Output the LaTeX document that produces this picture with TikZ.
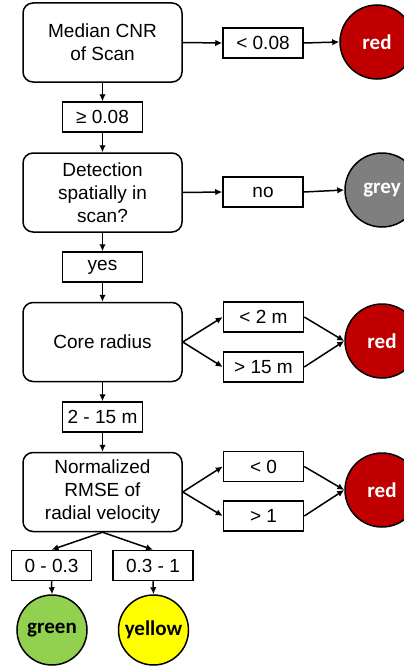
\documentclass[tikz,border=0pt]{standalone}
\usepackage{fontspec}
\setmainfont{Liberation Sans}
\newfontfamily\circfont{Carlito}
\usetikzlibrary{arrows.meta}
\definecolor{cred}{HTML}{C00000}
\definecolor{cgrey}{HTML}{7F7F7F}
\definecolor{cgreen}{HTML}{92D050}
\definecolor{cyellow}{HTML}{FFFF00}
\begin{document}
\begin{tikzpicture}[x=1pt,y=-1pt,
  decision/.style={draw, line width=1.5pt, rounded corners=10pt, minimum width=159pt, minimum height=79pt, align=center, inner sep=0pt, font=\fontsize{19}{23}\selectfont},
  cond/.style={draw, line width=1.5pt, minimum width=80pt, minimum height=30pt, inner sep=0pt, font=\fontsize{19}{23}\selectfont},
  result/.style={draw, circle, line width=1.5pt, inner sep=0pt, font=\circfont\bfseries\fontsize{21}{24}\selectfont},
  conn/.style={line width=1.5pt, -{Latex[length=7pt,width=6.5pt]}}]
\fill[white] (0,0) rectangle (404,669);
\clip (0,0) rectangle (404,669);
% decision boxes
\node[decision] (B1) at (102.5,42.5) {Median CNR\\of Scan};
\node[decision] (B2) at (102.5,192.5) {Detection\\spatially in\\scan?};
\node[decision] (B3) at (102.5,342) {Core radius};
\node[decision] (B4) at (102.5,492) {Normalized\\RMSE of\\radial velocity};
% condition labels
\node[cond] (L1) at (263,43) {< 0.08};
\node[cond] (G1) at (102.5,117) {≥ 0.08};
\node[cond] (L2) at (263,192) {no};
\node[cond] (G2) at (102.5,267) {yes};
\node[cond] (L3a) at (263.5,317) {< 2 m};
\node[cond] (L3b) at (263.5,367) {> 15 m};
\node[cond] (G3) at (102.5,417) {2 - 15 m};
\node[cond] (L4a) at (263.5,466.5) {< 0};
\node[cond] (L4b) at (263.5,516) {> 1};
\node[cond] (L5) at (51.5,565.5) {0 - 0.3};
\node[cond] (L6) at (153,565.5) {0.3 - 1};
% results
\node[result, fill=cred, text=white, minimum size=74pt] (C1) at (377,42) {red};
\node[result, fill=cgrey, text=white, minimum size=74pt] (C2) at (382,190) {grey};
\node[result, fill=cred, text=white, minimum size=74pt] (C3) at (382,341) {red};
\node[result, fill=cred, text=white, minimum size=74pt] (C4) at (382,490) {red};
\node[result, fill=cgreen, text=black, minimum size=70pt] (C5) at (52,630) {green};
\node[result, fill=cyellow, text=black, minimum size=70pt] (C6) at (153.5,630) {yellow};
% connectors
\draw[conn] (B1.east) -- (L1.west);
\draw[conn] (L1.east) -- (C1.west);
\draw[conn] (B1.south) -- (G1.north);
\draw[conn] (G1.south) -- (B2.north);
\draw[conn] (B2.east) -- (L2.west);
\draw[conn] (L2.east) -- (C2.west);
\draw[conn] (B2.south) -- (G2.north);
\draw[conn] (G2.south) -- (B3.north);
\draw[conn] (B3.east) -- (L3a.west);
\draw[conn] (B3.east) -- (L3b.west);
\draw[conn] (L3a.east) -- (C3.west);
\draw[conn] (L3b.east) -- (C3.west);
\draw[conn] (B3.south) -- (G3.north);
\draw[conn] (G3.south) -- (B4.north);
\draw[conn] (B4.east) -- (L4a.west);
\draw[conn] (B4.east) -- (L4b.west);
\draw[conn] (L4a.east) -- (C4.west);
\draw[conn] (L4b.east) -- (C4.west);
\draw[conn] (B4.south) -- (L5.north);
\draw[conn] (B4.south) -- (L6.north);
\draw[conn] (L5.south) -- (C5.north);
\draw[conn] (L6.south) -- (C6.north);
\end{tikzpicture}
\end{document}
